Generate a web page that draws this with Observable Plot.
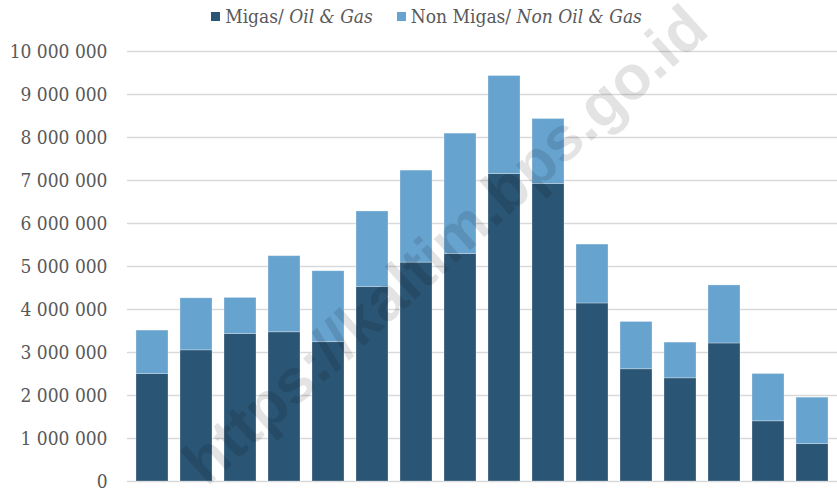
<!DOCTYPE html>
<html>
<head>
<meta charset="utf-8">
<script src="https://cdn.jsdelivr.net/npm/d3@7"></script>
<script src="https://cdn.jsdelivr.net/npm/@observablehq/plot@0.6"></script>
<style>
  html, body { margin: 0; padding: 0; background: #fff; }
  #wrap { position: relative; width: 837px; height: 491px; overflow: hidden; font-family: "DejaVu Serif Condensed", "DejaVu Serif", serif; }
  #legend { height: 32px; display: flex; justify-content: center; align-items: center; font-size: 19px; color: #595959; gap: 24px; padding-left: 16px; box-sizing: border-box; }
  #legend .item { display: flex; align-items: center; }
  #legend .sw { width: 9px; height: 9px; margin-right: 5px; }
  #wm { position: absolute; left: 0; top: 0; pointer-events: none; }
</style>
</head>
<body>
<div id="wrap">
  <div id="legend"></div>
  <div id="chart"></div>
</div>
<script>
// Categories (x axis labels are not shown in the reference)
const categories = ["1","2","3","4","5","6","7","8","9","10","11","12","13","14","15","16"];
// Series values
const migas    = [2500000, 3050000, 3430000, 3470000, 3240000, 4520000, 5090000, 5290000, 7150000, 6920000, 4140000, 2610000, 2400000, 3210000, 1400000, 870000];
const nonMigas = [1010000, 1210000, 840000, 1770000, 1650000, 1760000, 2140000, 2800000, 2280000, 1510000, 1370000, 1100000, 830000, 1350000, 1100000, 1080000];
const seriesNames = ["Migas", "Non Migas"];
const legendLabels = [["Migas/ ", "Oil & Gas"], ["Non Migas/ ", "Non Oil & Gas"]];
const colors = ["#2a5574", "#67a3cf"];
const yTicks = [0, 1000000, 2000000, 3000000, 4000000, 5000000, 6000000, 7000000, 8000000, 9000000, 10000000];

const data = [];
categories.forEach((c, i) => {
  data.push({cat: c, series: seriesNames[0], value: migas[i]});
  data.push({cat: c, series: seriesNames[1], value: nonMigas[i]});
});

// Legend
const legend = document.getElementById("legend");
legendLabels.forEach((l, i) => {
  const it = document.createElement("div");
  it.className = "item";
  it.innerHTML = `<span class="sw" style="background:${colors[i]}"></span><span>${l[0]}<i>${l[1]}</i></span>`;
  legend.appendChild(it);
});

const fmt = d => d3.format(",")(d).replace(/,/g, " ");

const chart = Plot.plot({
  width: 837,
  height: 459,
  marginTop: 19,
  marginBottom: 10,
  marginLeft: 127,
  marginRight: 0,
  style: { fontFamily: '"DejaVu Serif Condensed", "DejaVu Serif", serif', fontSize: "19px", color: "#595959", background: "transparent" },
  x: { domain: categories, paddingInner: 0.27, paddingOuter: 0.1, axis: null },
  y: { domain: [0, 10000000], ticks: yTicks, tickFormat: fmt, label: null, tickSize: 0, tickPadding: 20 },
  color: { domain: seriesNames, range: colors },
  marks: [
    Plot.gridY(yTicks, { stroke: "#d9d9d9", strokeOpacity: 1, strokeWidth: 1.3 }),
    Plot.barY(data, { x: "cat", y: "value", fill: "series", stroke: "#ffffff", strokeOpacity: 0.35, strokeWidth: 0.8 })
  ]
});
document.getElementById("chart").appendChild(chart);

// Watermark overlay
const ns = "http://www.w3.org/2000/svg";
const wm = document.createElementNS(ns, "svg");
wm.setAttribute("id", "wm");
wm.setAttribute("width", 837);
wm.setAttribute("height", 491);
const t = document.createElementNS(ns, "text");
t.setAttribute("x", 448);
t.setAttribute("y", 248);
t.setAttribute("text-anchor", "middle");
t.setAttribute("dominant-baseline", "middle");
t.setAttribute("transform", "rotate(-42 448 248)");
t.setAttribute("font-family", "Liberation Sans, Arial, sans-serif");
t.setAttribute("font-weight", "bold");
t.setAttribute("font-size", "62");
t.setAttribute("fill", "rgba(0,0,0,0.11)");
t.textContent = "https://kaltim.bps.go.id";
wm.appendChild(t);
document.getElementById("wrap").appendChild(wm);
</script>
</body>
</html>
